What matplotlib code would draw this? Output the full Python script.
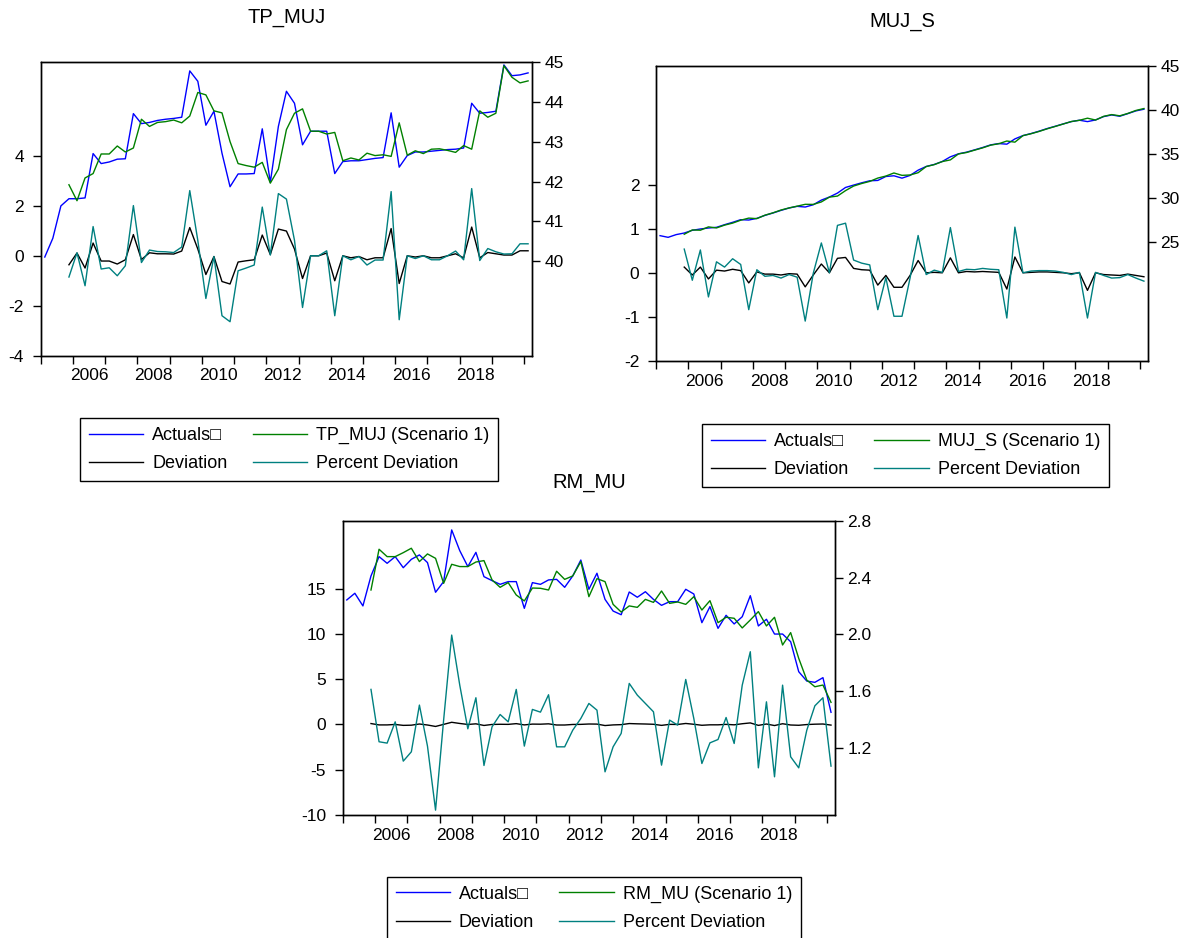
import matplotlib
matplotlib.use('Agg')
import matplotlib.pyplot as plt
from matplotlib.ticker import FixedLocator, NullFormatter, FixedFormatter

plt.rcParams['font.family'] = ['Liberation Sans', 'DejaVu Sans']

# quarterly observations 2005Q1 .. 2020Q1 (index 0..60)
n_obs = 61
years_lab = ['2006', '2008', '2010', '2012', '2014', '2016', '2018']
nan = float('nan')
pad3 = [nan, nan, nan]

# ---- TP_MUJ ----
tp_actual = [40.11, 40.58, 41.39, 41.57, 41.57, 41.59, 42.70, 42.45, 42.49, 42.56,
             42.57, 43.70, 43.45, 43.48, 43.53, 43.56, 43.58, 43.61, 44.77, 44.51,
             43.41, 43.76, 42.71, 41.87, 42.19, 42.19, 42.20, 43.32, 41.98, 43.38,
             44.26, 43.96, 42.92, 43.26, 43.26, 43.26, 42.20, 42.50, 42.52, 42.52,
             42.55, 42.58, 42.60, 43.72, 42.36, 42.65, 42.74, 42.74, 42.76, 42.78,
             42.80, 42.81, 42.84, 43.96, 43.71, 43.73, 43.76, 44.92, 44.65, 44.67,
             44.72]
tp_scen = pad3 + [41.92, 41.52, 42.09, 42.20, 42.69, 42.69, 42.89,
             42.74, 42.84, 43.56, 43.38, 43.48, 43.50, 43.54, 43.47, 43.64, 44.23,
             44.17, 43.77, 43.72, 43.00, 42.45, 42.40, 42.36, 42.48, 41.96, 42.31,
             43.30, 43.71, 43.82, 43.26, 43.26, 43.19, 43.23, 42.52, 42.59, 42.54,
             42.71, 42.65, 42.67, 42.63, 43.47, 42.66, 42.77, 42.70, 42.81, 42.82,
             42.78, 42.73, 42.90, 42.81, 43.77, 43.61, 43.71, 44.90, 44.61, 44.47,
             44.52]
tp_dev = pad3 + [-0.36, 0.11, -0.49, 0.51, -0.21, -0.21, -0.33,
             -0.16, 0.85, -0.15, 0.12, 0.08, 0.08, 0.07, 0.19, 1.13, 0.27,
             -0.75, -0.03, -1.03, -1.13, -0.25, -0.20, -0.16, 0.83, 0.05, 1.07,
             0.99, 0.27, -0.91, 0.00, 0.00, 0.11, -1.00, 0.00, -0.08, -0.03,
             -0.16, -0.08, -0.08, 1.09, -1.11, 0.00, -0.05, 0.00, -0.08, -0.08,
             0.00, 0.08, -0.08, 1.15, -0.08, 0.13, 0.08, 0.03, 0.03, 0.20,
             0.20]
tp_pct = pad3 + [-0.85, 0.12, -1.20, 1.17, -0.53, -0.48, -0.80,
             -0.40, 2.01, -0.27, 0.23, 0.17, 0.16, 0.13, 0.35, 2.61, 0.61,
             -1.71, -0.03, -2.40, -2.64, -0.60, -0.49, -0.37, 1.95, 0.03, 2.49,
             2.27, 0.62, -2.07, 0.00, 0.00, 0.20, -2.40, 0.00, -0.16, -0.03,
             -0.37, -0.17, -0.17, 2.57, -2.56, 0.00, -0.11, 0.00, -0.16, -0.16,
             0.00, 0.19, -0.16, 2.69, -0.19, 0.29, 0.16, 0.07, 0.08, 0.48,
             0.48]

# ---- MUJ_S ----
ms_actual = [25.68, 25.49, 25.80, 25.98, 26.29, 26.44, 26.55, 26.63, 26.93, 27.20,
             27.50, 27.46, 27.65, 27.99, 28.26, 28.56, 28.83, 29.02, 28.94, 29.20,
             29.73, 30.08, 30.53, 31.17, 31.44, 31.70, 31.93, 31.97, 32.42, 32.50,
             32.23, 32.54, 33.14, 33.56, 33.79, 34.13, 34.66, 35.00, 35.19, 35.45,
             35.72, 36.02, 36.17, 36.10, 36.70, 37.08, 37.31, 37.58, 37.88, 38.14,
             38.41, 38.67, 38.83, 38.67, 38.86, 39.24, 39.43, 39.28, 39.58, 39.89,
             40.08]
ms_scen = pad3 + [25.84, 26.33, 26.30, 26.68, 26.56, 26.88, 27.11,
             27.44, 27.68, 27.62, 28.01, 28.28, 28.60, 28.84, 29.04, 29.25, 29.24,
             29.52, 30.07, 30.19, 30.81, 31.33, 31.62, 31.86, 32.24, 32.47, 32.82,
             32.55, 32.59, 32.85, 33.55, 33.77, 34.12, 34.31, 34.99, 35.15, 35.42,
             35.68, 35.99, 36.15, 36.46, 36.33, 37.07, 37.29, 37.55, 37.85, 38.12,
             38.40, 38.68, 38.82, 39.06, 38.85, 39.27, 39.47, 39.33, 39.60, 39.94,
             40.16]
ms_dev = pad3 + [0.14, -0.04, 0.14, -0.13, 0.07, 0.05, 0.09,
             0.06, -0.22, 0.03, -0.02, -0.02, -0.04, -0.01, -0.02, -0.31, -0.04,
             0.21, 0.01, 0.34, 0.36, 0.11, 0.08, 0.07, -0.27, -0.05, -0.32,
             -0.32, -0.05, 0.29, 0.01, 0.02, 0.01, 0.35, 0.01, 0.04, 0.03,
             0.04, 0.03, 0.02, -0.36, 0.37, 0.01, 0.02, 0.03, 0.03, 0.02,
             0.01, -0.01, 0.01, -0.39, 0.01, -0.03, -0.04, -0.05, -0.02, -0.05,
             -0.08]
ms_pct = pad3 + [0.55, -0.16, 0.53, -0.54, 0.26, 0.14, 0.33,
             0.20, -0.83, 0.08, -0.07, -0.05, -0.11, -0.03, -0.09, -1.09, 0.00,
             0.69, 0.01, 1.09, 1.14, 0.30, 0.23, 0.19, -0.83, -0.10, -0.98,
             -0.98, -0.11, 0.86, -0.03, 0.07, 0.02, 1.04, 0.04, 0.09, 0.08,
             0.11, 0.09, 0.08, -1.02, 1.05, 0.01, 0.05, 0.06, 0.06, 0.05,
             0.02, -0.03, 0.02, -1.02, 0.02, -0.05, -0.11, -0.10, -0.03, -0.11,
             -0.18]

# ---- RM_MU ----
rm_actual = [2.242, 2.289, 2.200, 2.411, 2.547, 2.500, 2.547, 2.469, 2.528, 2.559,
             2.505, 2.296, 2.371, 2.735, 2.589, 2.477, 2.577, 2.406, 2.378, 2.352,
             2.371, 2.371, 2.183, 2.364, 2.352, 2.383, 2.387, 2.331, 2.411, 2.523,
             2.317, 2.430, 2.246, 2.164, 2.138, 2.298, 2.261, 2.300, 2.246, 2.204,
             2.230, 2.230, 2.317, 2.284, 2.082, 2.195, 2.042, 2.134, 2.073, 2.124,
             2.272, 2.059, 2.106, 2.002, 2.002, 1.948, 1.737, 1.671, 1.662, 1.695,
             1.451]
rm_scen = pad3 + [2.312, 2.599, 2.547, 2.547, 2.575, 2.606, 2.512,
             2.566, 2.535, 2.359, 2.493, 2.477, 2.477, 2.509, 2.519, 2.383, 2.331,
             2.364, 2.277, 2.235, 2.326, 2.324, 2.312, 2.444, 2.387, 2.411, 2.512,
             2.265, 2.392, 2.371, 2.211, 2.157, 2.200, 2.190, 2.246, 2.225, 2.305,
             2.218, 2.228, 2.211, 2.265, 2.171, 2.237, 2.082, 2.120, 2.113, 2.045,
             2.101, 2.160, 2.059, 2.120, 1.925, 2.012, 1.831, 1.678, 1.631, 1.643,
             1.521]
rm_dev = pad3 + [0.10, -0.05, -0.05, 0.00, -0.10, -0.08, 0.05,
             -0.06, -0.22, 0.01, 0.24, 0.11, 0.00, 0.07, -0.11, 0.00, 0.02,
             0.01, 0.09, -0.05, 0.04, 0.03, 0.07, -0.06, -0.06, 0.00, 0.01,
             0.05, 0.04, -0.12, -0.05, -0.02, 0.10, 0.07, 0.05, 0.02, -0.10,
             0.01, 0.00, 0.11, 0.02, -0.09, -0.04, -0.04, 0.01, -0.04, 0.08,
             0.17, -0.10, 0.05, -0.12, 0.08, -0.06, -0.09, -0.01, 0.03, 0.05,
             -0.07]
rm_pct = pad3 + [3.87, -1.91, -2.06, 0.29, -4.05, -3.02, 2.14,
             -2.39, -9.46, 0.48, 9.87, 4.34, -0.48, 2.95, -4.53, -0.26, 1.10,
             0.29, 3.87, -2.39, 1.66, 1.36, 3.28, -2.47, -2.47, -0.63, 0.66,
             2.32, 1.58, -5.23, -2.47, -0.99, 4.53, 3.24, 2.32, 1.40, -4.49,
             0.48, -0.07, 4.97, 0.66, -4.31, -2.03, -1.66, 0.77, -2.10, 4.34,
             8.03, -4.79, 2.50, -5.78, 4.34, -3.57, -4.79, -0.63, 2.06, 2.95,
             -4.60]

BLUE = '#0000ff'
GREEN = '#008000'
BLACK = '#000000'
TEAL = '#008080'

fig = plt.figure(figsize=(11.88, 9.38), dpi=100)


def panel(rect, title, title_pad, actual, scen, dev, pct, name,
          ylim_l, yt_l, ylim_r, yt_r, yt_r_lab, leg_xy):
    ax = fig.add_axes(rect)
    ax2 = ax.twinx()
    x = list(range(n_obs))
    l3, = ax.plot(x, dev, color=BLACK, lw=1.0)
    l4, = ax.plot(x, pct, color=TEAL, lw=1.0)
    l1, = ax2.plot(x, actual, color=BLUE, lw=1.0)
    l2, = ax2.plot(x, scen, color=GREEN, lw=1.0)

    ax.set_xlim(-0.5, 60.5)
    ax.set_ylim(*ylim_l)
    ax2.set_ylim(*ylim_r)
    ax.set_yticks(yt_l)
    ax.set_yticklabels([str(v) for v in yt_l])
    ax2.set_yticks(yt_r)
    ax2.set_yticklabels(yt_r_lab)

    ax.xaxis.set_major_locator(FixedLocator([-0.5 + 4 * k for k in range(16)]))
    ax.xaxis.set_major_formatter(NullFormatter())
    ax.xaxis.set_minor_locator(FixedLocator([5.5 + 8 * k for k in range(7)]))
    ax.xaxis.set_minor_formatter(FixedFormatter(years_lab))
    ax.tick_params(axis='x', which='major', length=6, width=1.0, direction='out')
    ax.tick_params(axis='x', which='minor', length=0, pad=9, labelsize=12.5)
    ax.tick_params(axis='y', length=6, width=1.0, labelsize=12.5, pad=6)
    ax2.tick_params(axis='y', length=6, width=1.0, labelsize=12.5, pad=3)
    for a in (ax, ax2):
        for s in a.spines.values():
            s.set_linewidth(1.0)
    ax.set_title(title, fontsize=14.5, pad=title_pad)

    fig.legend([l1, l3, l2, l4],
               ['Actuals\u25a1', 'Deviation', name + ' (Scenario 1)', 'Percent Deviation'],
               ncol=2, loc='upper left', bbox_to_anchor=leg_xy,
               bbox_transform=fig.transFigure, fontsize=13, frameon=True,
               fancybox=False, edgecolor='black', framealpha=1,
               handlelength=3.0, handletextpad=0.5, columnspacing=1.4,
               labelspacing=0.62, borderpad=0.5, borderaxespad=0)
    return ax, ax2


panel([0.0343, 0.6208, 0.4136, 0.3134], 'TP_MUJ', 28,
      tp_actual, tp_scen, tp_dev, tp_pct, 'TP_MUJ',
      (-4, 7.77), [-4, -2, 0, 2, 4], (37.64, 45.0),
      [40, 41, 42, 43, 44, 45], ['40', '41', '42', '43', '44', '45'],
      (80 / 1188, 1 - 418 / 938))

panel([0.5522, 0.6151, 0.4141, 0.3145], 'MUJ_S', 28,
      ms_actual, ms_scen, ms_dev, ms_pct, 'MUJ_S',
      (-2, 4.72), [-2, -1, 0, 1, 2], (11.4, 45.0),
      [25, 30, 35, 40, 45], ['25', '30', '35', '40', '45'],
      (701.7 / 1188, 1 - 424 / 938))

panel([0.2885, 0.1311, 0.4144, 0.3138], 'RM_MU', 24,
      rm_actual, rm_scen, rm_dev, rm_pct, 'RM_MU',
      (-10, 22.5), [-10, -5, 0, 5, 10, 15], (0.728, 2.8),
      [1.2, 1.6, 2.0, 2.4, 2.8], ['1.2', '1.6', '2.0', '2.4', '2.8'],
      (386.7 / 1188, 1 - 876.7 / 938))

fig.savefig('out.png', dpi=100)
